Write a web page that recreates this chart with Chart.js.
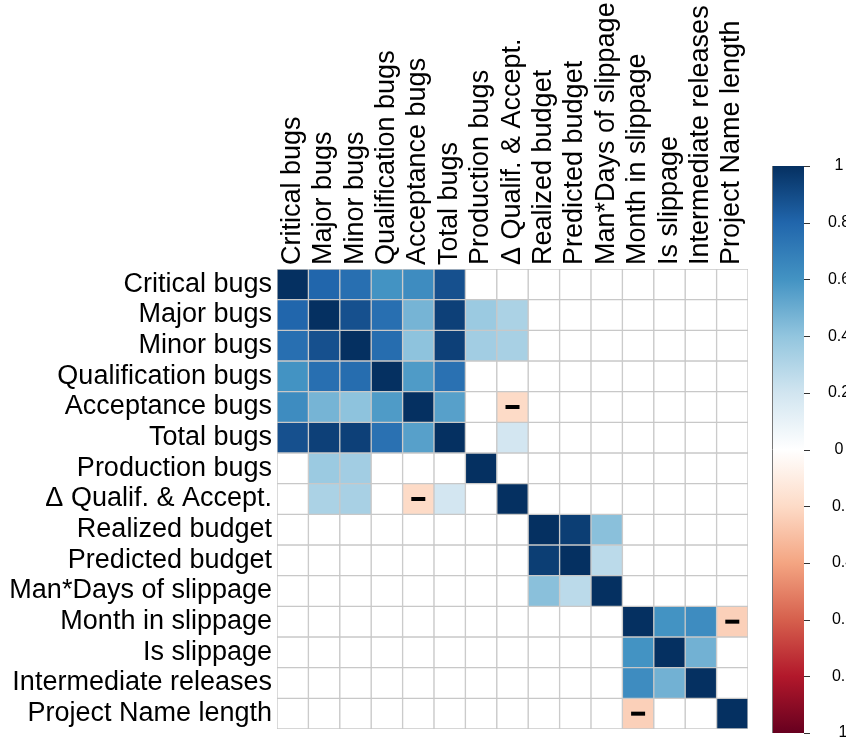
<!DOCTYPE html>
<html>
<head>
<meta charset="utf-8">
<script src="https://cdn.jsdelivr.net/npm/chart.js@4.4.1/dist/chart.umd.min.js"></script>
<style>
  html, body { margin: 0; padding: 0; background: #fff; }
  canvas { display: block; }
</style>
</head>
<body>
<canvas id="corrChart" width="846" height="740"></canvas>
<script>
const variables = [
  'Critical bugs', 'Major bugs', 'Minor bugs', 'Qualification bugs', 'Acceptance bugs',
  'Total bugs', 'Production bugs', 'Δ Qualif. & Accept.', 'Realized budget', 'Predicted budget',
  'Man*Days of slippage', 'Month in slippage', 'Is slippage', 'Intermediate releases', 'Project Name length'
];

// correlation rows (blank cells = 0)
const criticalBugs      = [1, 0.8, 0.76, 0.6, 0.63, 0.88, 0, 0, 0, 0, 0, 0, 0, 0, 0];
const majorBugs         = [0.8, 1, 0.88, 0.76, 0.47, 0.94, 0.37, 0.32, 0, 0, 0, 0, 0, 0, 0];
const minorBugs         = [0.76, 0.88, 1, 0.77, 0.41, 0.94, 0.35, 0.33, 0, 0, 0, 0, 0, 0, 0];
const qualifBugs        = [0.6, 0.76, 0.77, 1, 0.57, 0.75, 0, 0, 0, 0, 0, 0, 0, 0, 0];
const acceptBugs        = [0.63, 0.47, 0.41, 0.57, 1, 0.55, 0, -0.2, 0, 0, 0, 0, 0, 0, 0];
const totalBugs         = [0.88, 0.94, 0.94, 0.75, 0.55, 1, 0, 0.19, 0, 0, 0, 0, 0, 0, 0];
const productionBugs    = [0, 0.37, 0.35, 0, 0, 0, 1, 0, 0, 0, 0, 0, 0, 0, 0];
const deltaQualAccept   = [0, 0.32, 0.33, 0, -0.2, 0.19, 0, 1, 0, 0, 0, 0, 0, 0, 0];
const realizedBudget    = [0, 0, 0, 0, 0, 0, 0, 0, 1, 0.95, 0.42, 0, 0, 0, 0];
const predictedBudget   = [0, 0, 0, 0, 0, 0, 0, 0, 0.95, 1, 0.27, 0, 0, 0, 0];
const manDaysSlippage   = [0, 0, 0, 0, 0, 0, 0, 0, 0.42, 0.27, 1, 0, 0, 0, 0];
const monthSlippage     = [0, 0, 0, 0, 0, 0, 0, 0, 0, 0, 0, 1, 0.6, 0.63, -0.24];
const isSlippage        = [0, 0, 0, 0, 0, 0, 0, 0, 0, 0, 0, 0.6, 1, 0.48, 0];
const intermediateRel   = [0, 0, 0, 0, 0, 0, 0, 0, 0, 0, 0, 0.63, 0.48, 1, 0];
const projectNameLength = [0, 0, 0, 0, 0, 0, 0, 0, 0, 0, 0, -0.24, 0, 0, 1];

const corrRows = [
  criticalBugs, majorBugs, minorBugs, qualifBugs, acceptBugs, totalBugs, productionBugs,
  deltaQualAccept, realizedBudget, predictedBudget, manDaysSlippage, monthSlippage,
  isSlippage, intermediateRel, projectNameLength
];

const legendTicks = [1, 0.8, 0.6, 0.4, 0.2, 0, -0.2, -0.4, -0.6, -0.8, -1];
const legendLabels = ['1', '0.8', '0.6', '0.4', '0.2', '0', '0.2', '0.4', '0.6', '0.8', '1'];

// RdBu ramp, -1 .. 1
const palette = ['#67001F', '#B2182B', '#D6604D', '#F4A582', '#FDDBC7', '#FFFFFF',
                 '#D1E5F0', '#92C5DE', '#4393C3', '#2166AC', '#053061'];

const labelFont = { family: '"Liberation Sans", Arial, sans-serif', size: 27, lineHeight: 1.2 };

function hexRgb(h) {
  return [1, 3, 5].map(i => parseInt(h.substr(i, 2), 16));
}

function corrColor(v) {
  const t = (v + 1) / 2 * (palette.length - 1);
  const i = Math.min(Math.floor(t), palette.length - 2);
  const f = t - i;
  const a = hexRgb(palette[i]), b = hexRgb(palette[i + 1]);
  const c = a.map((x, k) => Math.round(x + (b[k] - x) * f));
  return `rgb(${c[0]},${c[1]},${c[2]})`;
}

const cellSets = corrRows.map((row, r) => ({
  type: 'bar',
  label: variables[r],
  data: row.map(() => [r, r + 1]),
  backgroundColor: row.map(corrColor),
  borderColor: '#c8c8c8',
  borderWidth: 1,
  borderSkipped: false,
  barPercentage: 1,
  categoryPercentage: 1,
  grouped: false,
  order: 1
}));

// negative cells get a dash
const dashPoints = [];
corrRows.forEach((row, r) => row.forEach((v, c) => {
  if (v < 0) dashPoints.push({ x: variables[c], y: r + 0.5 });
}));

const colorLegend = {
  id: 'colorLegend',
  afterDraw(chart) {
    const ctx = chart.ctx;
    const x0 = 772, x1 = 804, yTop = 166, yBot = 733;
    const grad = ctx.createLinearGradient(0, yTop, 0, yBot);
    palette.slice().reverse().forEach((col, i) => grad.addColorStop(i / (palette.length - 1), col));
    ctx.save();
    ctx.fillStyle = grad;
    ctx.fillRect(x0, yTop, x1 - x0, yBot - yTop);
    ctx.strokeStyle = '#777';
    ctx.lineWidth = 1;
    ctx.beginPath();
    ctx.moveTo(x0 + 0.5, yBot);
    ctx.lineTo(x0 + 0.5, yTop);
    ctx.stroke();
    ctx.font = '16px "Liberation Sans", Arial, sans-serif';
    ctx.fillStyle = '#000';
    ctx.textBaseline = 'middle';
    ctx.textAlign = 'center';
    legendTicks.forEach((v, i) => {
      const y = yTop + (1 - v) / 2 * (yBot - yTop);
      ctx.strokeStyle = '#333';
      ctx.beginPath();
      ctx.moveTo(x1, Math.round(y) + 0.5);
      ctx.lineTo(x1 + 6, Math.round(y) + 0.5);
      ctx.stroke();
      const cx = v < 0 ? 843 : 839;
      ctx.fillText(legendLabels[i], cx, y);
    });
    ctx.restore();
  }
};

const ctx = document.getElementById('corrChart').getContext('2d');
new Chart(ctx, {
  data: {
    labels: variables,
    datasets: [
      {
        type: 'line',
        data: dashPoints,
        showLine: false,
        pointStyle: 'line',
        pointRadius: 7,
        pointHoverRadius: 7,
        pointBorderWidth: 4,
        pointBorderColor: '#000',
        borderColor: '#000',
        order: 0
      },
      ...cellSets
    ]
  },
  options: {
    responsive: false,
    animation: false,
    layout: { padding: { left: 0, right: 98, top: 0, bottom: 0 } },
    plugins: {
      legend: { display: false },
      tooltip: { enabled: false }
    },
    scales: {
      x: {
        type: 'category',
        position: 'top',
        offset: true,
        grid: { display: false, drawTicks: false },
        border: { display: false },
        ticks: {
          autoSkip: false,
          minRotation: 90,
          maxRotation: 90,
          padding: 4,
          labelOffset: 32,
          color: '#000',
          font: labelFont
        },
        afterFit(axis) {
          axis.height = 269;
          axis.paddingLeft = 0;
          axis.paddingRight = 0;
        }
      },
      y: {
        type: 'linear',
        min: 0,
        max: variables.length,
        reverse: true,
        grid: { display: false, drawTicks: false },
        border: { display: false },
        afterBuildTicks(axis) {
          axis.ticks = variables.map((_, i) => ({ value: i + 0.5 }));
        },
        ticks: {
          autoSkip: false,
          padding: 5,
          color: '#000',
          font: labelFont,
          callback: (v, i) => variables[i]
        },
        afterFit(axis) {
          axis.width = 277;
          axis.paddingTop = 0;
          axis.paddingBottom = 0;
        }
      }
    }
  },
  plugins: [colorLegend]
});
</script>
</body>
</html>
